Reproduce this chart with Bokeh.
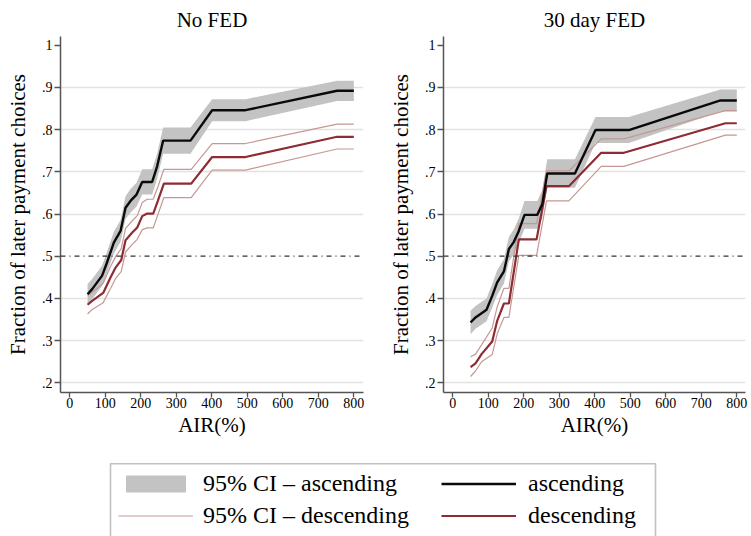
from bokeh.plotting import figure
from bokeh.layouts import column, row
from bokeh.models import (Range1d, FixedTicker, CustomJSTickFormatter, Span,
                          Legend, LegendItem, BoxAnnotation)
from bokeh.embed import file_html
from bokeh.resources import INLINE

FONT = "'Liberation Serif', 'Times New Roman', serif"

# ---------------- data ----------------
panel_titles = ["No FED", "30 day FED"]
x_ticks = [0, 100, 200, 300, 400, 500, 600, 700, 800]
y_ticks = [0.2, 0.3, 0.4, 0.5, 0.6, 0.7, 0.8, 0.9, 1.0]
grid_ticks = [0.2, 0.3, 0.4, 0.6, 0.7, 0.8, 0.9]
reference_level = 0.5

# No FED - ascending
air_asc_nofed = [50, 63, 91, 103, 124, 143, 157, 171, 188, 204, 232, 246, 263, 340, 401, 495, 753, 800]
frac_asc_nofed = [0.410, 0.422, 0.454, 0.481, 0.532, 0.560, 0.615, 0.631, 0.646, 0.676, 0.676, 0.713, 0.774, 0.774, 0.846, 0.846, 0.892, 0.892]
lo_asc_nofed = [0.386, 0.398, 0.430, 0.456, 0.506, 0.534, 0.588, 0.603, 0.618, 0.646, 0.646, 0.683, 0.743, 0.743, 0.820, 0.820, 0.868, 0.868]
hi_asc_nofed = [0.434, 0.446, 0.478, 0.506, 0.558, 0.586, 0.642, 0.659, 0.674, 0.706, 0.706, 0.743, 0.805, 0.805, 0.872, 0.872, 0.916, 0.916]

# No FED - descending
air_desc_nofed = [50, 63, 94, 115, 129, 145, 157, 176, 190, 204, 218, 235, 248, 265, 342, 401, 495, 753, 800]
frac_desc_nofed = [0.385, 0.394, 0.413, 0.450, 0.473, 0.491, 0.538, 0.556, 0.568, 0.595, 0.601, 0.601, 0.631, 0.672, 0.672, 0.735, 0.735, 0.783, 0.783]
lo_desc_nofed = [0.363, 0.374, 0.390, 0.424, 0.447, 0.464, 0.510, 0.528, 0.540, 0.563, 0.567, 0.567, 0.598, 0.639, 0.639, 0.704, 0.704, 0.754, 0.754]
hi_desc_nofed = [0.407, 0.414, 0.436, 0.476, 0.499, 0.518, 0.566, 0.584, 0.596, 0.627, 0.635, 0.635, 0.664, 0.706, 0.706, 0.767, 0.767, 0.813, 0.813]

# 30 day FED - ascending
air_asc_fed = [50, 64, 95, 111, 125, 144, 158, 172, 186, 202, 238, 252, 266, 344, 402, 496, 754, 800]
frac_asc_fed = [0.343, 0.355, 0.373, 0.406, 0.438, 0.464, 0.517, 0.534, 0.560, 0.598, 0.598, 0.623, 0.696, 0.696, 0.799, 0.799, 0.869, 0.869]
lo_asc_fed = [0.315, 0.328, 0.346, 0.378, 0.409, 0.435, 0.488, 0.504, 0.530, 0.565, 0.565, 0.590, 0.662, 0.662, 0.768, 0.768, 0.843, 0.843]
hi_asc_fed = [0.371, 0.382, 0.400, 0.434, 0.467, 0.493, 0.546, 0.564, 0.590, 0.631, 0.631, 0.656, 0.730, 0.730, 0.830, 0.830, 0.895, 0.895]

# 30 day FED - descending
air_desc_fed = [50, 64, 81, 111, 125, 144, 158, 186, 236, 264, 327, 418, 482, 768, 800]
frac_desc_fed = [0.237, 0.246, 0.268, 0.298, 0.347, 0.388, 0.388, 0.540, 0.540, 0.666, 0.666, 0.745, 0.745, 0.815, 0.815]
lo_desc_fed = [0.215, 0.228, 0.250, 0.267, 0.316, 0.355, 0.355, 0.502, 0.502, 0.631, 0.631, 0.713, 0.713, 0.787, 0.787]
hi_desc_fed = [0.262, 0.268, 0.290, 0.330, 0.380, 0.424, 0.424, 0.577, 0.577, 0.702, 0.702, 0.778, 0.778, 0.845, 0.845]

legend_labels = ["95% CI \u2013 ascending", "95% CI \u2013 descending", "ascending", "descending"]

# ---------------- styles ----------------
BAND = "#c3c3c3"
BLACK = "#0a0a0a"
RED = "#8e2b33"
CI_RED = "#c49893"
AXIS = "#555555"

def make_panel(title, width, border_left, border_right, x_start, x_end,
               ax, ay, alo, ahi, dx, dy, dlo, dhi):
    p = figure(width=width, height=445, title=title,
               x_range=Range1d(x_start, x_end), y_range=Range1d(0.1771, 1.0206),
               output_backend="svg", toolbar_location=None,
               min_border_left=border_left, min_border_right=border_right,
               min_border_top=35, min_border_bottom=53)
    p.title.text_font = FONT
    p.title.text_font_size = "21px"
    p.title.text_font_style = "normal"
    p.title.text_color = "black"
    p.title.align = "center"
    p.title.standoff = 10
    p.outline_line_color = None
    p.xgrid.visible = False
    p.ygrid.ticker = FixedTicker(ticks=grid_ticks)
    p.ygrid.grid_line_color = "#e2e2e2"
    p.ygrid.grid_line_width = 1.3

    p.xaxis.ticker = FixedTicker(ticks=x_ticks)
    p.yaxis.ticker = FixedTicker(ticks=y_ticks)
    p.yaxis.formatter = CustomJSTickFormatter(
        code="return tick > 0.999 ? '1' : tick.toFixed(1).replace('0.', '.');")
    for axis in (p.xaxis, p.yaxis):
        axis.axis_line_color = AXIS
        axis.axis_line_width = 1.5
        axis.major_tick_line_color = AXIS
        axis.major_tick_line_width = 1.3
        axis.major_tick_in = 0
        axis.minor_tick_line_color = None
        axis.major_label_text_font = FONT
        axis.major_label_text_font_size = "14px"
        axis.major_label_text_color = "black"
        axis.axis_label_text_font = FONT
        axis.axis_label_text_font_size = "21px"
        axis.axis_label_text_font_style = "normal"
        axis.axis_label_text_color = "black"
    p.xaxis.major_tick_out = 5
    p.xaxis.major_label_standoff = 0
    p.xaxis.axis_label_standoff = 2
    p.yaxis.major_tick_out = 6
    p.yaxis.major_label_standoff = 2
    p.yaxis.axis_label_standoff = 9
    p.xaxis.axis_label = "AIR(%)"
    p.yaxis.axis_label = "Fraction of later payment choices"

    p.varea(x=ax, y1=alo, y2=ahi, fill_color=BAND, fill_alpha=1.0)
    p.line(dx, dlo, line_color=CI_RED, line_width=1.2)
    p.line(dx, dhi, line_color=CI_RED, line_width=1.2)
    p.line(dx, dy, line_color=RED, line_width=2.2)
    p.line(ax, ay, line_color=BLACK, line_width=2.4)
    p.add_layout(Span(location=reference_level, dimension="width", line_color="#333333",
                      line_width=1.2, line_dash="5 4 1 4"))
    return p

p1 = make_panel(panel_titles[0], 375, 60, 12, -26.2, 827.3,
                air_asc_nofed, frac_asc_nofed, lo_asc_nofed, hi_asc_nofed,
                air_desc_nofed, frac_desc_nofed, lo_desc_nofed, hi_desc_nofed)
p2 = make_panel(panel_titles[1], 376, 68, 6, -26.2, 824.5,
                air_asc_fed, frac_asc_fed, lo_asc_fed, hi_asc_fed,
                air_desc_fed, frac_desc_fed, lo_desc_fed, hi_desc_fed)

# ---------------- legend strip ----------------
LW, LH = 751, 91
lg = figure(width=LW, height=LH, x_range=Range1d(0, LW), y_range=Range1d(0, LH),
            output_backend="svg", toolbar_location=None, min_border=0,
            x_axis_location=None, y_axis_location=None)
lg.grid.visible = False
lg.outline_line_color = None
# legend-only renderers, kept outside the visible range
r_band = lg.varea(x=[-50, -40], y1=[-50, -50], y2=[-40, -40], fill_color=BAND)
r_ci = lg.line(x=[-50, -40], y=[-50, -50], line_color=CI_RED, line_width=1.2)
r_blk = lg.line(x=[-50, -40], y=[-50, -50], line_color=BLACK, line_width=2.4)
r_red = lg.line(x=[-50, -40], y=[-50, -50], line_color=RED, line_width=2.2)

def make_legend(items, loc, standoff):
    return Legend(items=items, location=loc, orientation="vertical",
                  glyph_width=75, glyph_height=21, label_height=21,
                  label_standoff=standoff, spacing=5, padding=0, margin=0,
                  border_line_color=None, background_fill_alpha=0,
                  label_text_font=FONT, label_text_font_size="24px", label_text_color="black")

legA = make_legend([LegendItem(label=legend_labels[0], renderers=[r_band]),
                    LegendItem(label=legend_labels[1], renderers=[r_ci])], (118, 6.7), 10)
legB = make_legend([LegendItem(label=legend_labels[2], renderers=[r_blk]),
                    LegendItem(label=legend_labels[3], renderers=[r_red])], (441, 6.7), 12)
lg.add_layout(legA)
lg.add_layout(legB)
lg.add_layout(BoxAnnotation(left=110, right=655, top=LH - 18.3, bottom=-20,
                            fill_alpha=0, line_color="#333333", line_width=1.6))

layout = column(row(p1, p2), lg)
open("out.html", "w").write(file_html(layout, INLINE))
